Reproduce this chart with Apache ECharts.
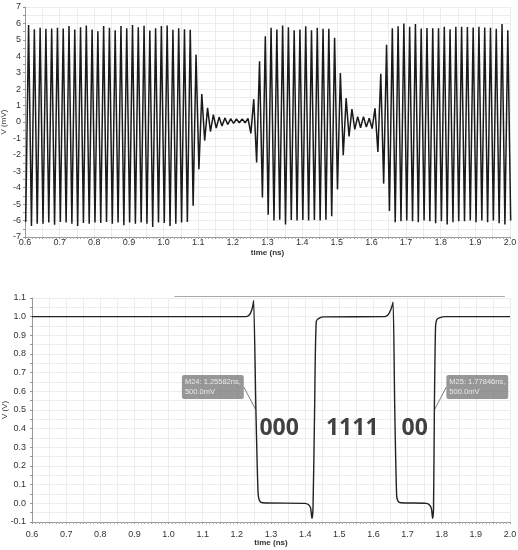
<!DOCTYPE html>
<html>
<head>
<meta charset="utf-8">
<script src="https://cdn.jsdelivr.net/npm/echarts@6/dist/echarts.min.js"></script>
<style>
html,body{margin:0;padding:0;background:#fff;}
#chart{width:518px;height:550px;}
</style>
</head>
<body>
<div id="chart"></div>
<script>
// ---------- DATA ----------
// Top panel: 60 GHz carrier, one trough and one peak per cycle (mV)
const carrierStart = 0.602;      // ns, time of first trough
const carrierPeriod = 1 / 60;    // ns
const peakValues = [
  5.90, 5.65, 5.73, 5.67, 5.69, 5.73, 5.69, 5.84, 5.63, 5.76,
  5.88, 5.63, 5.53, 5.84, 5.73, 5.59, 5.84, 5.71, 5.90, 5.76,
  5.86, 5.57, 5.71, 5.84, 5.88, 5.61, 5.71, 5.65, 5.61, 4.10,
  1.70, 0.86, 0.45, 0.30, 0.25, 0.20, 0.18, 0.18, 0.22, 1.39,
  3.69, 5.22, 5.73, 5.63, 5.87, 5.77, 5.59, 5.63, 5.83, 5.59,
  5.73, 5.67, 5.67, 5.12, 2.98, 1.45, 0.78, 0.33, 0.33, 0.23,
  0.84, 2.94, 4.70, 5.70, 5.83, 5.99, 5.79, 5.97, 5.69, 5.72,
  5.70, 5.71, 5.80, 5.65, 5.80, 5.80, 5.78, 5.75, 5.80, 5.75,
  5.73, 5.67, 5.97, 5.58
];
const troughValues = [
  -6.08, -6.33, -6.19, -6.19, -6.12, -6.25, -6.08, -6.12, -6.19, -6.33,
  -6.14, -6.19, -6.12, -6.14, -6.08, -6.19, -6.12, -6.29, -6.12, -6.19,
  -6.12, -6.19, -6.39, -6.12, -6.14, -6.33, -6.19, -6.12, -6.08, -5.10,
  -2.87, -1.13, -0.58, -0.37, -0.25, -0.15, -0.08, -0.04, -0.05, -0.69,
  -2.47, -4.60, -5.65, -5.99, -5.95, -6.24, -5.97, -5.99, -5.97, -5.99,
  -5.97, -5.99, -5.95, -5.74, -4.10, -2.02, -0.88, -0.45, -0.35, -0.30,
  -0.40, -1.82, -3.75, -5.42, -6.10, -6.04, -5.99, -6.04, -6.10, -5.99,
  -6.04, -6.16, -6.04, -6.24, -6.10, -6.04, -6.04, -5.99, -6.10, -5.99,
  -6.10, -5.99, -6.16, -6.24, -6.00
];

// Bottom panel: demodulated output (V)
const outTime = [0.600, 1.227, 1.237, 1.2437, 1.2470, 1.2490, 1.2558, 1.2620, 1.2660, 1.2750,
  1.400, 1.4100, 1.4160, 1.4198, 1.4230, 1.4277, 1.4326, 1.4424, 1.4550,
  1.633, 1.643, 1.6508, 1.6550, 1.6576, 1.6625, 1.6680, 1.6720, 1.6800,
  1.7550, 1.7650, 1.7700, 1.7732, 1.7760, 1.77846, 1.7820, 1.7858, 1.7950, 1.8100, 2.000];
const outVolt = [1.000, 1.000, 1.010, 1.037, 1.060, 1.085, 0.500, 0.060, 0.015, 0.003,
  0.000, -0.008, -0.025, -0.080, -0.030, 0.500, 0.975, 0.993, 0.999,
  1.000, 1.010, 1.037, 1.060, 1.078, 0.500, 0.040, 0.012, 0.003,
  0.000, -0.010, -0.030, -0.080, -0.030, 0.500, 0.950, 0.985, 0.995, 1.000, 1.000];

// Markers
const markerNames = ['M24', 'M25'];
const markerTimes = [1.25582, 1.77846];
const markerVolts = [0.5, 0.5];

// Bit annotations
const bitTexts = ['000', '1111', '00'];
const bitTimes = [1.324, 1.538, 1.721];
const bitLevel = 0.40;

// Grey trace just above the bottom plot
const upperTraceTimes = [1.017, 1.985];
const upperTraceLevel = 1.108;

// Axis ranges
const xMin = 0.6, xMax = 2.0;
const topYMin = -7, topYMax = 7;
const botYMin = -0.1, botYMax = 1.1;

// ---------- BUILD ----------
const carrierData = [];
for (let j = 0; j < troughValues.length; j++) {
  carrierData.push([carrierStart + j * carrierPeriod, troughValues[j]]);
  if (j < peakValues.length) carrierData.push([carrierStart + (j + 0.5) * carrierPeriod, peakValues[j]]);
}
const outData = outTime.map((t, i) => [t, outVolt[i]]);
const markerData = markerNames.map((n, i) => ({name: n, value: [markerTimes[i], markerVolts[i]]}));
const bitData = bitTexts.map((b, i) => ({name: b, value: [bitTimes[i], bitLevel]}));
const upperData = upperTraceTimes.map(t => [t, upperTraceLevel]);

const FONT = '"Liberation Sans", Arial, sans-serif';
const labelColor = '#333';

function xAxisCfg(gi) {
  return {
    type: 'value', gridIndex: gi, min: xMin, max: xMax, interval: 0.05,
    name: 'time (ns)', nameLocation: 'middle', nameGap: gi === 0 ? 12 : 17, nameMoveOverlap: false,
    nameTextStyle: {fontSize: 8, color: labelColor, fontFamily: FONT, fontWeight: 'bold'},
    axisLine: {show: true, onZero: false, lineStyle: {color: '#999', width: 1}},
    axisTick: {show: true, length: 2, lineStyle: {color: '#999'}},
    minorTick: {show: true, splitNumber: 5, length: 2, lineStyle: {color: '#aaa'}},
    axisLabel: {
      fontSize: 9, color: labelColor, fontFamily: FONT, margin: gi === 0 ? 1 : 8,
      formatter: v => (Math.round(v * 100) % 10 === 0 ? v.toFixed(1) : '')
    },
    splitLine: {show: true, lineStyle: {color: '#ececec', width: 1}}
  };
}

const option = {
  animation: false,
  backgroundColor: '#fff',
  grid: [
    {left: 25, right: 8, top: 7, height: 230, containLabel: false, outerBoundsMode: 'none'},
    {left: 32, right: 8, top: 298, height: 224, containLabel: false, outerBoundsMode: 'none'}
  ],
  xAxis: [xAxisCfg(0), xAxisCfg(1)],
  yAxis: [
    {
      type: 'value', gridIndex: 0, min: topYMin, max: topYMax, interval: 0.5,
      name: 'V (mV)', nameLocation: 'middle', nameGap: 17, nameRotate: 90, nameMoveOverlap: false,
      nameTextStyle: {fontSize: 8, color: labelColor, fontFamily: FONT},
      axisLine: {show: true, onZero: false, lineStyle: {color: '#999'}},
      axisTick: {show: true, length: 2, lineStyle: {color: '#999'}},
      axisLabel: {
        fontSize: 9, color: labelColor, fontFamily: FONT, margin: 4,
        formatter: v => (Math.abs(v - Math.round(v)) < 1e-6 ? String(Math.round(v)) : '')
      },
      splitLine: {show: true, lineStyle: {color: '#ececec'}}
    },
    {
      type: 'value', gridIndex: 1, min: botYMin, max: botYMax, interval: 0.05,
      name: 'V (V)', nameLocation: 'middle', nameGap: 23, nameRotate: 90, nameMoveOverlap: false,
      nameTextStyle: {fontSize: 8, color: labelColor, fontFamily: FONT},
      axisLine: {show: true, onZero: false, lineStyle: {color: '#999'}},
      axisTick: {show: true, length: 2, lineStyle: {color: '#999'}},
      axisLabel: {
        fontSize: 9, color: labelColor, fontFamily: FONT, margin: 6,
        formatter: v => {
          const r = Math.round(v * 100);
          if (r % 10 !== 0) return '';
          const s = (r / 100).toFixed(1);
          return s === '-0.0' ? '0.0' : s;
        }
      },
      splitLine: {show: true, lineStyle: {color: '#ececec'}}
    }
  ],
  series: [
    {
      name: 'carrier', type: 'line', xAxisIndex: 0, yAxisIndex: 0,
      data: carrierData, showSymbol: false, symbol: 'none',
      lineStyle: {color: '#1a1a1a', width: 1.5}
    },
    {
      name: 'output', type: 'line', xAxisIndex: 1, yAxisIndex: 1,
      data: outData, showSymbol: false, symbol: 'none', smooth: 0.25,
      lineStyle: {color: '#222', width: 1.4}
    },
    {
      name: 'upper', type: 'line', xAxisIndex: 1, yAxisIndex: 1, clip: false,
      data: upperData, showSymbol: false, symbol: 'none',
      lineStyle: {color: '#a8a8a8', width: 1}
    },
    {
      name: 'markers', type: 'scatter', xAxisIndex: 1, yAxisIndex: 1,
      data: markerData, symbolSize: 1, itemStyle: {color: 'rgba(0,0,0,0)'},
      label: {
        show: true, position: 'inside',
        formatter: p => p.name + ': ' + p.value[0].toFixed(5) + 'ns,\n' + (p.value[1] * 1000).toFixed(1) + 'mV',
        backgroundColor: '#7d7d7d', color: '#fff', fontSize: 7.5, fontFamily: FONT,
        lineHeight: 10, padding: [2, 3, 2, 3], borderRadius: 2, align: 'left'
      },
      labelLayout: p => (p.dataIndex === 0 ? {dx: -74, dy: -23} : {dx: 12, dy: -23}),
      labelLine: {show: true, lineStyle: {color: '#7d7d7d', width: 1}}
    },
    {
      name: 'bits', type: 'scatter', xAxisIndex: 1, yAxisIndex: 1,
      data: bitData, symbolSize: 1, itemStyle: {color: 'rgba(0,0,0,0)'},
      label: {
        show: true, position: 'inside', formatter: p => p.name,
        fontSize: 23, fontWeight: 'bold', color: '#111', fontFamily: '"Open Sans", sans-serif'
      }
    }
  ]
};

const chart = echarts.init(document.getElementById('chart'), null, {renderer: 'canvas'});
chart.setOption(option);
</script>
</body>
</html>
